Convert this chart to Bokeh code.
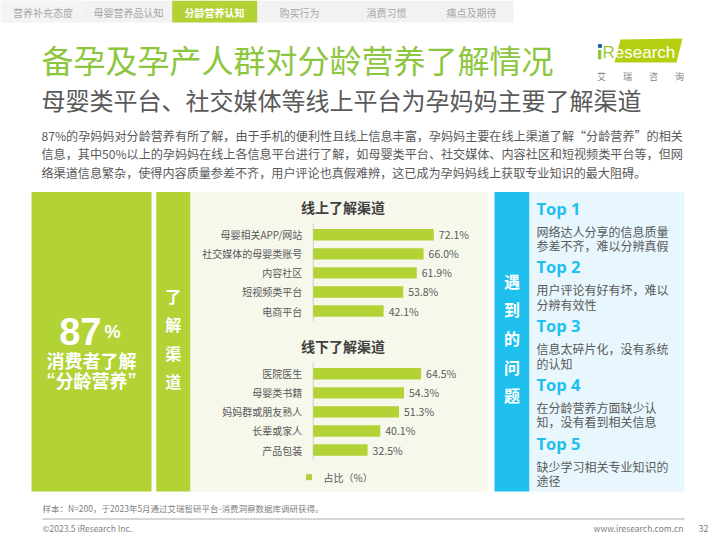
from bokeh.plotting import figure
from bokeh.models import Range1d
from bokeh.core.properties import value
from bokeh.embed import file_html
from bokeh.resources import INLINE

# ---------------- data ----------------
nav_tabs = ["营养补充态度", "母婴营养品认知", "分龄营养认知", "购买行为", "消费习惯", "痛点及期待"]
active_tab = 2

title = "备孕及孕产人群对分龄营养了解情况"
subtitle = "母婴类平台、社交媒体等线上平台为孕妈妈主要了解渠道"
paragraph = [
    "87%的孕妈妈对分龄营养有所了解，由于手机的便利性且线上信息丰富，孕妈妈主要在线上渠道了解“分龄营养”的相关",
    "信息，其中50%以上的孕妈妈在线上各信息平台进行了解，如母婴类平台、社交媒体、内容社区和短视频类平台等，但网",
    "络渠道信息繁杂，使得内容质量参差不齐，用户评论也真假难辨，这已成为孕妈妈线上获取专业知识的最大阻碍。",
]

aware_pct = 87

online_title = "线上了解渠道"
online_channels = ["母婴相关APP/网站", "社交媒体的母婴类账号", "内容社区", "短视频类平台", "电商平台"]
online_values = [72.1, 66.0, 61.9, 53.8, 42.1]

offline_title = "线下了解渠道"
offline_channels = ["医院医生", "母婴类书籍", "妈妈群或朋友熟人", "长辈或家人", "产品包装"]
offline_values = [64.5, 54.3, 51.3, 40.1, 32.5]

legend_label = "占比（%）"

problem_ranks = ["Top 1", "Top 2", "Top 3", "Top 4", "Top 5"]
problem_texts = [
    ["网络达人分享的信息质量", "参差不齐，难以分辨真假"],
    ["用户评论有好有坏，难以", "分辨有效性"],
    ["信息太碎片化，没有系统", "的认知"],
    ["在分龄营养方面缺少认", "知，没有看到相关信息"],
    ["缺少学习相关专业知识的", "途径"],
]

footnote = "样本：N=200，于2023年5月通过艾瑞智研平台-消费洞察数据库调研获得。"
copyright_text = "©2023.5 iResearch Inc."
website = "www.iresearch.com.cn"
page_no = "32"

# ---------------- styles ----------------
CJK = value("Noto Sans CJK SC")
GREEN = "#b2d235"
TITLE_GREEN = "#8cc63e"
BLUE = "#1fc0ee"
LIGHT_BLUE = "#e8f7fd"
PANEL = "#f6f8ec"
GRAY = "#595959"
DARK = "#404040"

W, H = 720, 540
p = figure(width=W, height=H, x_range=Range1d(0, W), y_range=Range1d(H, 0),
           output_backend="svg", toolbar_location=None, min_border=0,
           x_axis_type=None, y_axis_type=None)
p.grid.visible = False
p.outline_line_color = None
p.background_fill_color = "white"
p.border_fill_color = "white"


def txt(x, y, t, size, color=GRAY, align="left", bold=False, font=CJK, baseline="middle"):
    p.text(x=[x], y=[y], text=[t], text_font=font, text_font_size=f"{size}px",
           text_color=color, text_align=align, text_baseline=baseline,
           text_font_style="bold" if bold else "normal")


# ---------------- nav bar ----------------
p.quad(left=[0], right=[513], top=[0], bottom=[22], color="#f2f2f2", line_color=None)
p.quad(left=[0], right=[85], top=[0], bottom=[22], color="#f4f4f4", line_color=None)
p.quad(left=[171.7], right=[256.7], top=[0], bottom=[22], color=GREEN, line_color=None)
tab_x = [42.5, 128, 214, 299, 386, 471]
for i, t in enumerate(nav_tabs):
    if i == active_tab:
        txt(tab_x[i], 11.5, t, 10, "white", "center", bold=True)
    else:
        txt(tab_x[i], 11.5, t, 10, "#a6a6a6", "center")

# ---------------- titles ----------------
txt(41, 58, title, 32, TITLE_GREEN)
txt(41, 99, subtitle, 24, GRAY)

# logo
p.patch(x=[620, 682, 676, 614], y=[39, 38, 62, 62], color="#b5cf10", line_color=None)
p.quad(left=[597.5], right=[600.8], top=[49.5], bottom=[58.7], color="#8cc63e", line_color=None)
p.scatter(x=[599.5], y=[45.5], size=4.5, color="#1d5fae", line_color=None)
txt(602, 52, "R", 17, "#9cc83a", font=value("Liberation Sans"))
txt(614.3, 52, "esearch", 17, "white", font=value("Liberation Sans"))
for cx, ch in zip([601, 627, 653, 679], "艾瑞咨询"):
    txt(cx, 75.5, ch, 9, "#7f7f7f", "center")

# paragraph
for i, line in enumerate(paragraph):
    txt(41, 134.5 + 18.5 * i, line, 12.1, GRAY)

# ---------------- left boxes ----------------
p.quad(left=[31], right=[151], top=[191.5], bottom=[491], color=GREEN, line_color=None)
p.quad(left=[155.7], right=[190], top=[191.5], bottom=[491], color=GREEN, line_color=None)
txt(101, 331, str(aware_pct), 38, "white", "right", bold=True, font=value("Liberation Sans"), baseline="alphabetic")
txt(104, 331, "%", 18, "white", "left", bold=True, font=value("Liberation Sans"), baseline="alphabetic")
txt(91, 359, "消费者了解", 18, "white", "center", bold=True)
txt(91, 379.5, "分龄营养", 18, "white", "center", bold=True)
txt(55, 379.5, "“", 18, "white", "right", bold=True, font=value("Liberation Sans"))
txt(127, 379.5, "”", 18, "white", "left", bold=True, font=value("Liberation Sans"))
for k, ch in enumerate("了解渠道"):
    txt(172.8, 295 + 28.5 * k, ch, 16, "white", "center", bold=True)

# ---------------- chart panel ----------------
p.quad(left=[190], right=[487], top=[191.5], bottom=[491], color=PANEL, line_color=None)

X0, PX = 312.7, 1.673
TOP0, BOT0, ROW = 234.3, 373.3, 19.05
p.extra_x_ranges = {"pct": Range1d((0 - X0) / PX, (W - X0) / PX)}
p.extra_y_ranges = {
    "top": Range1d((H - TOP0) / ROW, (0 - TOP0) / ROW),
    "bot": Range1d((H - BOT0) / ROW, (0 - BOT0) / ROW),
}

for rng, cats, vals, ttl, ty in [("top", online_channels, online_values, online_title, 206.7),
                                 ("bot", offline_channels, offline_values, offline_title, 345.5)]:
    idx = list(range(len(cats)))
    txt(342.5, ty, ttl, 14, DARK, "center", bold=True)
    p.segment(x0=[0], x1=[0], y0=[-0.58], y1=[len(cats) - 0.47], line_color="#d0d0d0",
              line_width=1, x_range_name="pct", y_range_name=rng)
    p.hbar(y=idx, left=0, right=vals, height=0.6, color=GREEN, line_color=None,
           x_range_name="pct", y_range_name=rng)
    p.text(x=[0] * len(cats), y=idx, text=cats, x_offset=-11, text_align="right",
           text_baseline="middle", text_font=CJK, text_font_size="10px", text_color=GRAY,
           x_range_name="pct", y_range_name=rng)
    p.text(x=vals, y=idx, text=[f"{v:.1f}%" for v in vals], x_offset=5, text_align="left",
           text_baseline="middle", text_font=CJK, text_font_size="10.5px", text_color=GRAY,
           x_range_name="pct", y_range_name=rng)

# legend
p.scatter(x=[308.5], y=[476.7], marker="square", size=6, color=GREEN, line_color=None)
txt(323, 477, legend_label, 10, GRAY)

# ---------------- right panel ----------------
p.quad(left=[494], right=[529], top=[191.5], bottom=[491], color=BLUE, line_color=None)
p.quad(left=[529], right=[684], top=[191.5], bottom=[491], color=LIGHT_BLUE, line_color=None)
for k, ch in enumerate("遇到的问题"):
    txt(511.5, 280 + 28.7 * k, ch, 16, "white", "center", bold=True)
for k, (rank, lines) in enumerate(zip(problem_ranks, problem_texts)):
    hy = 207.5 + 58.8 * k
    txt(536, hy, rank, 16.5, BLUE, bold=True, font=value("Open Sans"))
    for j, ln in enumerate(lines):
        txt(536, hy + 23 + 14.5 * j, ln, 12, GRAY)

# ---------------- footer ----------------
txt(42, 507, footnote, 8.5, "#7f7f7f")
p.segment(x0=[42], x1=[684], y0=[518.5], y1=[518.5], line_color="#c8c8c8", line_width=1.5)
txt(42, 527.5, copyright_text, 8.5, "#7f7f7f")
txt(683, 527.5, website, 8.5, "#7f7f7f", "right")
txt(708, 527.5, page_no, 9, "#7f7f7f", "right")

open("out.html", "w").write(file_html(p, INLINE))
